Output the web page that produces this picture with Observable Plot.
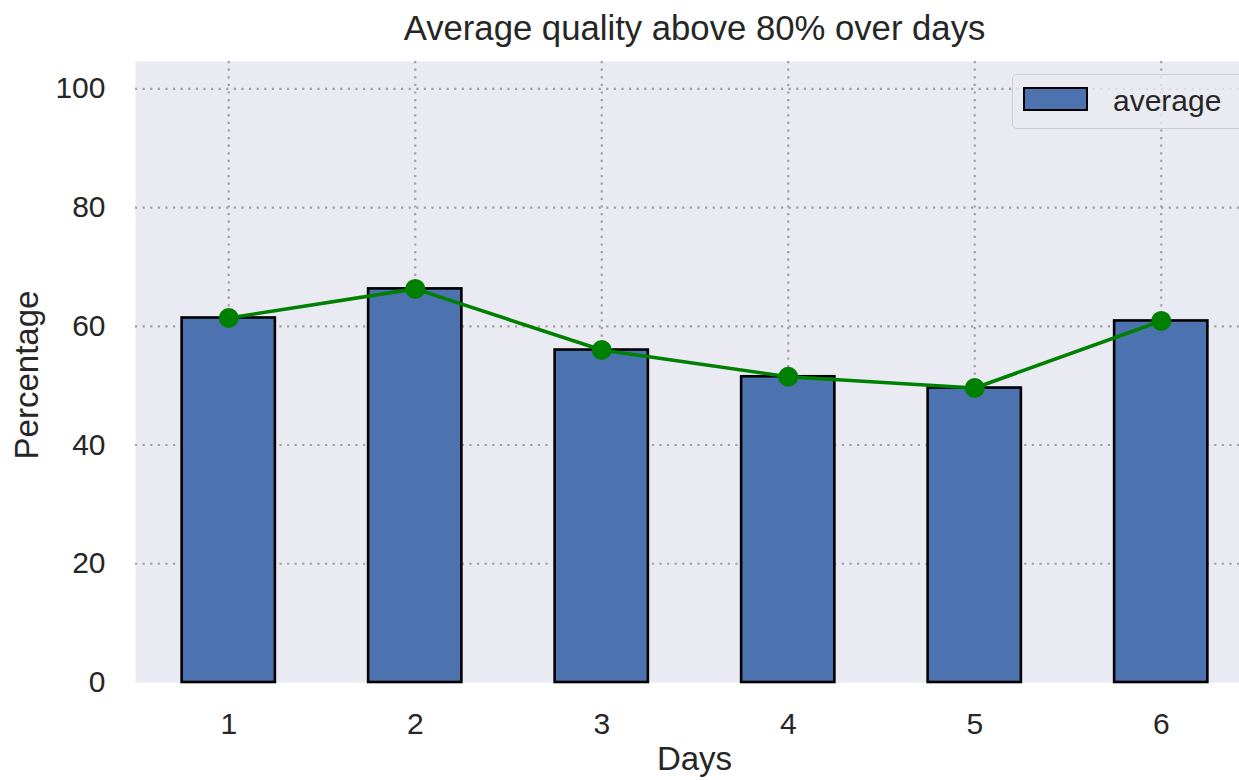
<!DOCTYPE html>
<html><head><meta charset="utf-8">
<script src="https://cdn.jsdelivr.net/npm/d3@7"></script>
<script src="https://cdn.jsdelivr.net/npm/@observablehq/plot@0.6"></script>
<style>
body{margin:0;overflow:hidden;background:#fff;font-family:"Liberation Sans",Arial,sans-serif;color:#262626}
#wrap{position:relative;width:1262px;height:780px}
#title{box-sizing:border-box;height:46px;padding-top:11px;margin-left:135px;width:1119px;text-align:center;font-size:34.7px;line-height:35px;white-space:nowrap}
#chart svg{display:block}
#ylabel{position:absolute;left:26px;top:375px;transform:translate(-50%,-50%) rotate(-90deg);font-size:33px;line-height:33px;white-space:nowrap}
#xlabel{position:absolute;left:135px;width:1119px;top:742px;text-align:center;font-size:33px;line-height:33px}
#legend{position:absolute;left:1012px;top:74px;width:240px;height:55px;box-sizing:border-box;border:1px solid #cccccc;border-radius:5px;background:rgba(234,234,242,0.8)}
#legend .sw{position:absolute;left:10px;top:12px;width:65px;height:24px;box-sizing:border-box;border:2px solid #000;background:#4c72b0}
#legend .lt{position:absolute;left:100px;top:11px;font-size:30px;line-height:30px;white-space:nowrap}
</style></head><body>
<div id="wrap">
<div id="title">Average quality above 80% over days</div>
<div id="chart"></div>
<div id="ylabel">Percentage</div>
<div id="xlabel">Days</div>
<div id="legend"><span class="sw"></span><span class="lt">average</span></div>
</div>
<script>
const days = [1, 2, 3, 4, 5, 6];
const average = [61.4, 66.3, 56.0, 51.5, 49.6, 60.9];
const yTicks = [0, 20, 40, 60, 80, 100];
const seriesName = "average";

const data = days.map((d, i) => ({day: d, value: average[i], series: seriesName}));
const gridStyle = {stroke: "#a0a0a0", strokeOpacity: 1, strokeWidth: 2.2, strokeDasharray: "2.2,5.4"};

const chart = Plot.plot({
  width: 1262,
  height: 734,
  marginLeft: 135,
  marginRight: 8,
  marginTop: 15,
  marginBottom: 98,
  style: {fontFamily: "Liberation Sans, Arial, sans-serif", fontSize: "30px", color: "#262626", background: "transparent", overflow: "visible"},
  x: {domain: [0.5, 6.5], ticks: days, tickFormat: d => String(d), tickSize: 0, tickPadding: 30, label: null},
  y: {domain: [0, 104.6], ticks: yTicks, tickSize: 0, tickPadding: 30, label: null},
  marks: [
    Plot.frame({fill: "#eaeaf2", stroke: "none"}),
    Plot.gridX(days, gridStyle),
    Plot.gridY(yTicks.filter(t => t > 0), gridStyle),
    Plot.rect(data, {x1: d => d.day - 0.25, x2: d => d.day + 0.25, y1: d => 0, y2: "value", fill: "#4c72b0", stroke: "#000", strokeWidth: 2.6}),
    Plot.line(data, {x: "day", y: "value", stroke: "#008000", strokeWidth: 3.6}),
    Plot.dot(data, {x: "day", y: "value", r: 10, fill: "#008000", stroke: "none"})
  ]
});
document.getElementById("chart").appendChild(chart);
</script>
</body></html>
